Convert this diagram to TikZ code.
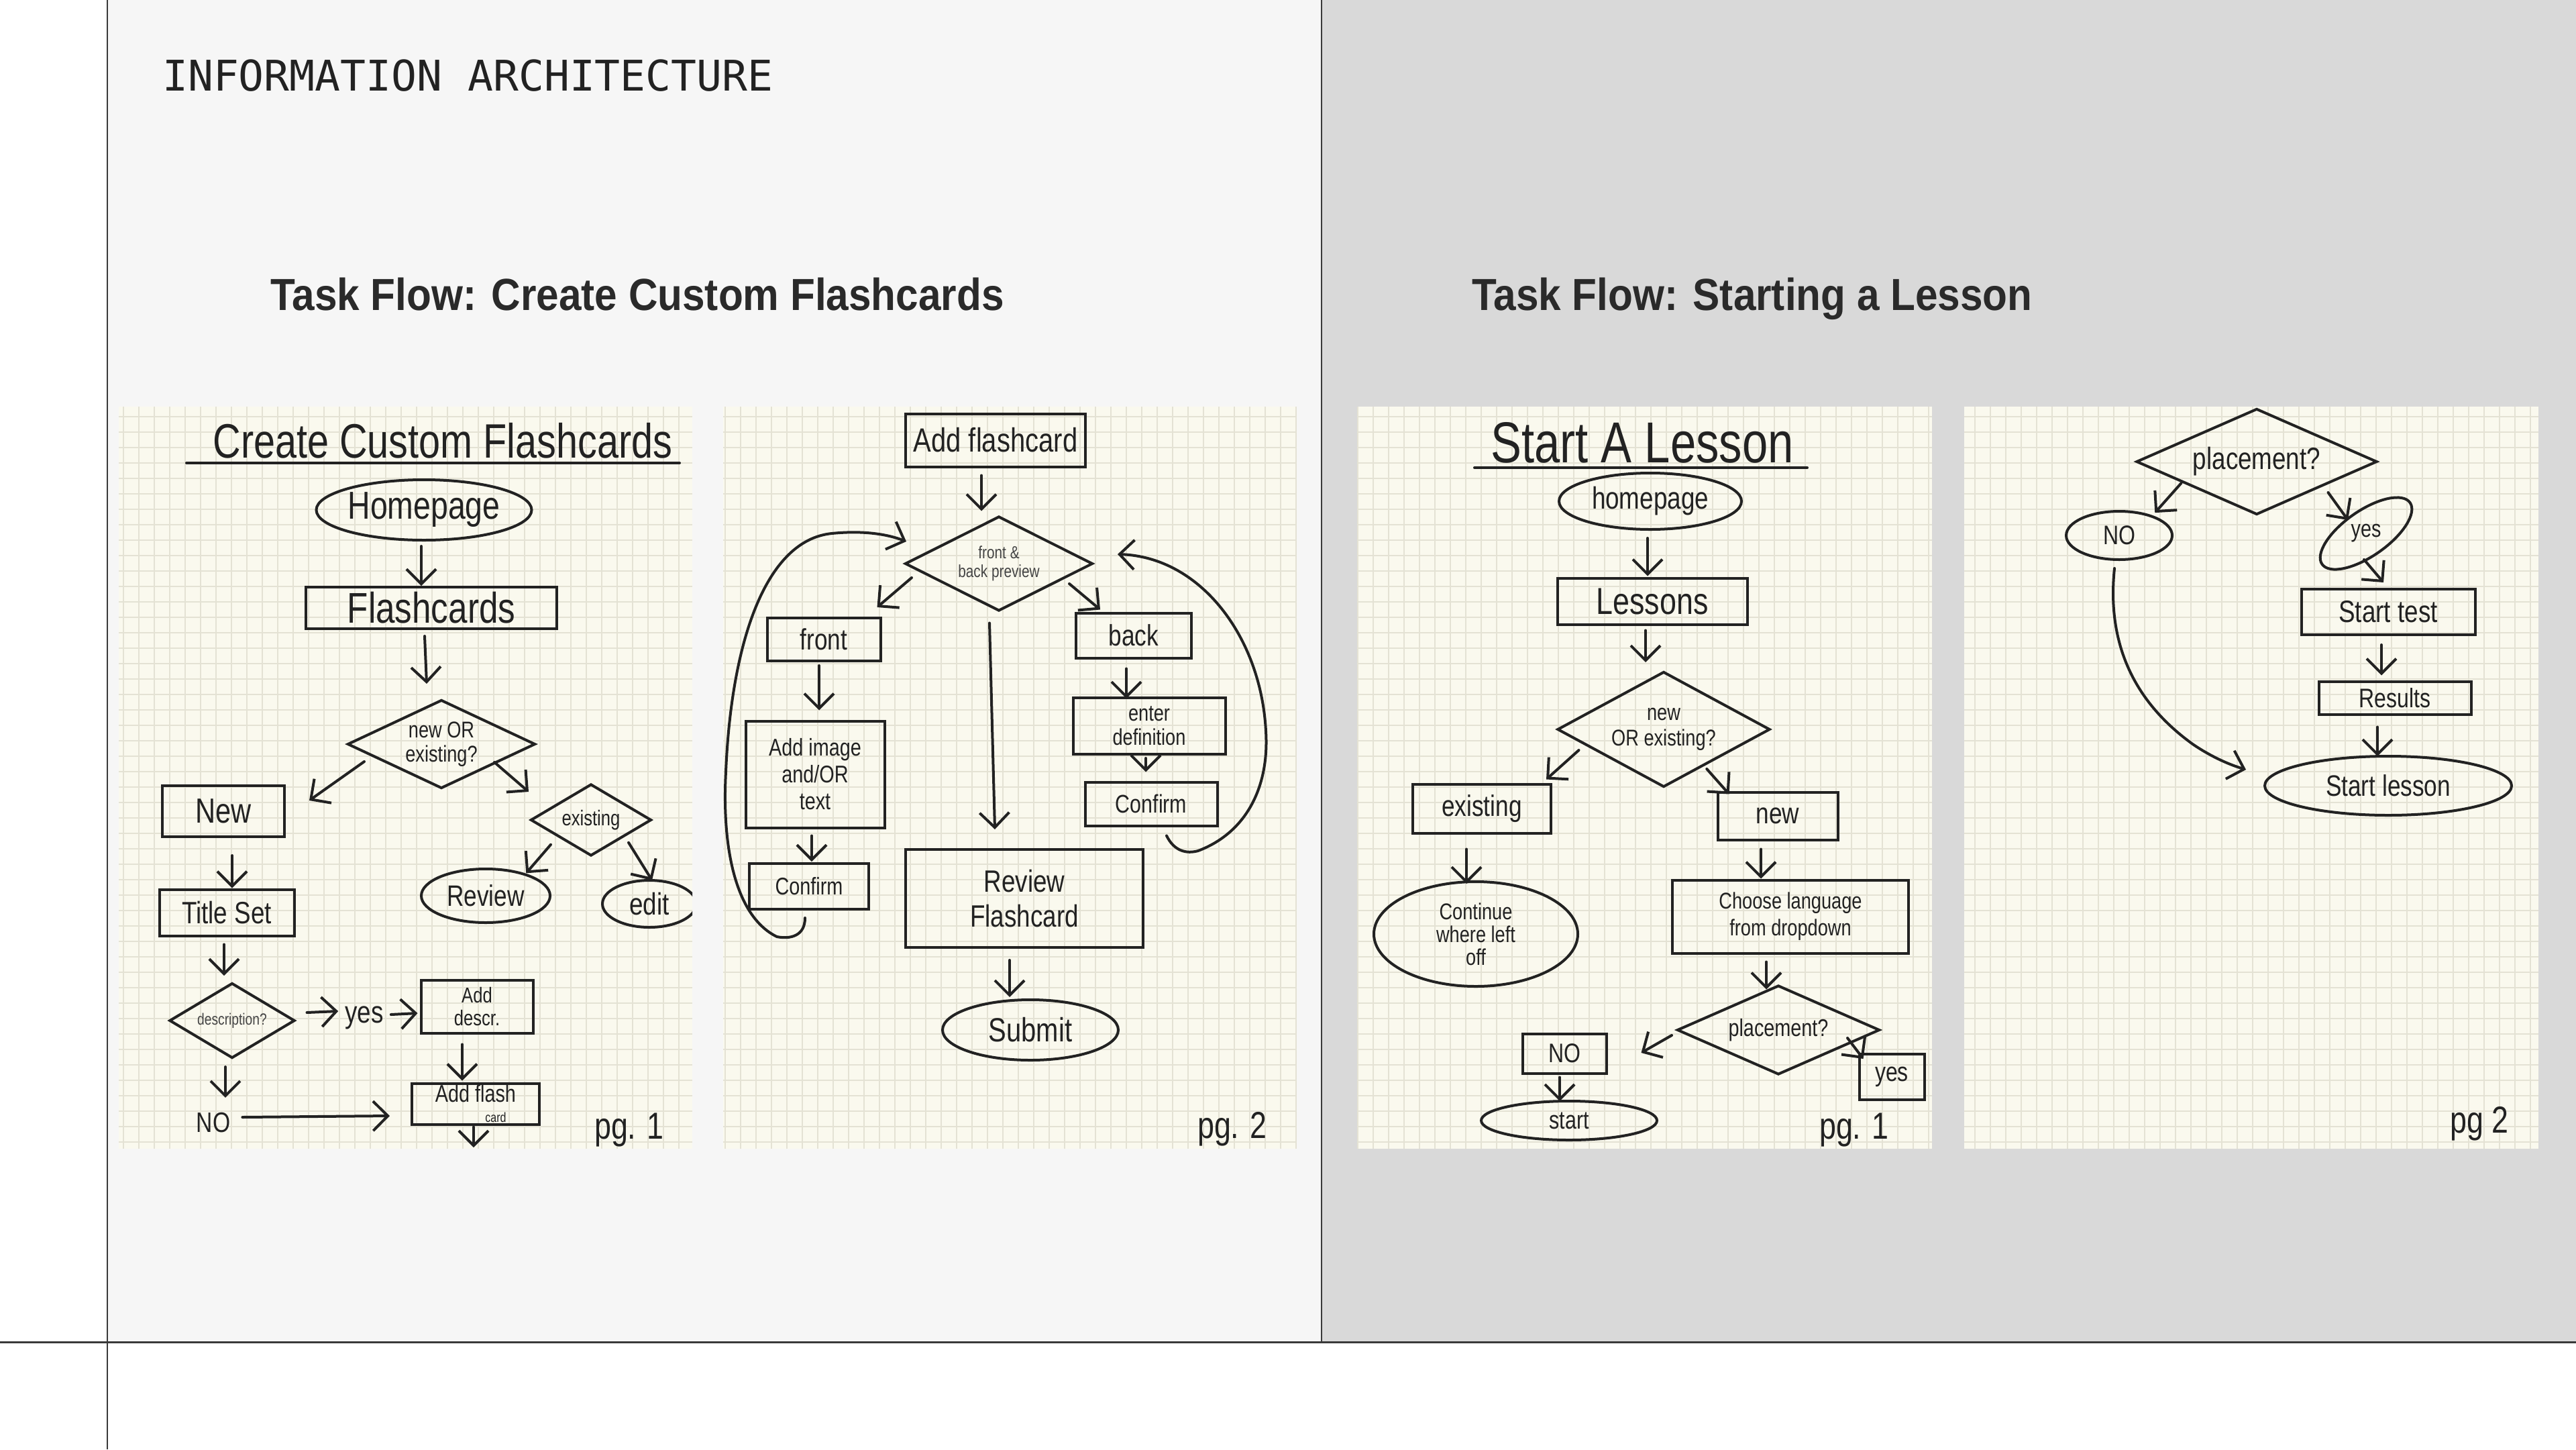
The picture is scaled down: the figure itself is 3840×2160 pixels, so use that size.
\documentclass[tikz,border=0pt]{standalone}
\usepackage{fontspec}
\usetikzlibrary{shapes.geometric,arrows.meta,calc}
\newfontfamily\monof{DejaVu Sans Mono}
\newfontfamily\titlef[FakeStretch=0.9]{Liberation Sans}
\newfontfamily\hand[FakeStretch=0.8]{Liberation Sans}
\newcommand\fsz[2]{\fontsize{#1}{#2}\selectfont}
\definecolor{ink}{HTML}{222222}
\definecolor{paper}{HTML}{FAF9EE}
\definecolor{gridc}{HTML}{E4E2D4}
\definecolor{lbg}{HTML}{F6F6F6}
\definecolor{rbg}{HTML}{D9D9D9}
\definecolor{rulec}{HTML}{3A3A3A}
\definecolor{titlec}{HTML}{2A2A2A}
\definecolor{faint}{HTML}{444444}
\tikzset{
 hbox/.style={draw=ink, line width=4pt, rectangle, inner sep=0pt, text=ink, font=\hand, align=center},
 hell/.style={draw=ink, line width=4pt, ellipse, inner sep=0pt, text=ink, font=\hand, align=center},
 hdia/.style={draw=ink, line width=4pt, diamond, inner sep=0pt, text=ink, font=\hand, align=center},
 htxt/.style={inner sep=0pt, text=ink, font=\hand, align=center},
 harrow/.style={draw=ink, line width=4pt, line cap=round, line join=round, -{Straight Barb[length=22pt,width=44pt]}},
 hline/.style={draw=ink, line width=4pt, line cap=round},
 gridline/.style={draw=gridc, line width=1.2pt},
 sheet/.style={fill=paper},
}
\begin{document}
\begin{tikzpicture}[x=1pt,y=-1pt]
\useasboundingbox (0,0) rectangle (3840,2160);
\fill[white] (0,0) rectangle (3840,2160);
\fill[lbg] (160,0) rectangle (1970,2000);
\fill[rbg] (1970,0) rectangle (3840,2000);
\draw[rulec, line width=2.5pt] (160,0) -- (160,2160);
\draw[rulec, line width=2pt] (1970,0) -- (1970,2000);
\draw[rulec, line width=3pt] (0,2000) -- (3840,2000);

% headers
\node[anchor=base west, inner sep=0pt, text=ink, font=\monof\fsz{63}{66}] (ia) at (242,135) {INFORMATION ARCHITECTURE};
\node[anchor=base west, inner sep=0pt, text=titlec, font=\titlef\bfseries\fsz{67}{70}] (tf1) at (403,462) {Task Flow: Create Custom Flashcards};
\node[anchor=base west, inner sep=0pt, text=titlec, font=\titlef\bfseries\fsz{67}{70}] (tf2) at (2194,462) {Task Flow: Starting a Lesson};

% sheets
\fill[sheet] (177,606) rectangle (1032,1712);
\fill[sheet] (1078,606) rectangle (1933,1712);
\fill[sheet] (2024,606) rectangle (2880,1712);
\fill[sheet] (2928,606) rectangle (3784,1712);
\draw[gridline, step=23pt] (177,1712) grid (1032,606);
\draw[gridline, step=23pt] (1078,1712) grid (1933,606);
\draw[gridline, step=23pt] (2024,1712) grid (2880,606);
\draw[gridline, step=23pt] (2928,1712) grid (3784,606);

% ---------------- sheet 1 ----------------
\begin{scope}
\clip (177,606) rectangle (1032,1712);
\node[htxt, anchor=base, font=\hand\fsz{72}{76}] (ct1) at (660,682) {Create Custom Flashcards};
\draw[hline] (278,690) -- (1013,690);
\node[hell, minimum width=314pt, minimum height=90pt, font=\hand\fsz{58}{62}] (home1) at (632,760) {Homepage};
\node[hbox, minimum width=374pt, minimum height=62pt, font=\hand\fsz{64}{68}] (flash1) at (643,906) {Flashcards};
\node[hdia, aspect=2.1, minimum width=280pt, minimum height=132pt, font=\hand\fsz{34}{36}] (dia1) at (658,1109) {new OR\\existing?};
\node[hbox, minimum width=182pt, minimum height=76pt, font=\hand\fsz{52}{56}] (new1) at (333,1209) {New};
\node[hdia, aspect=1.7, minimum width=180pt, minimum height=107pt, font=\hand\fsz{32}{34}] (exdia1) at (881,1222) {existing};
\node[hbox, minimum width=201pt, minimum height=69pt, font=\hand\fsz{46}{50}] (tset) at (338,1360) {Title Set};
\node[hell, minimum width=192pt, minimum height=80pt, font=\hand\fsz{44}{48}] (review1) at (724,1335) {Review};
\node[hell, minimum width=140pt, minimum height=70pt, font=\hand\fsz{46}{50}] (edit1) at (968,1347) {edit};
\node[hdia, aspect=1.67, minimum width=187pt, minimum height=112pt, draw=ink, text=faint, font=\hand\fsz{24}{26}] (desc) at (346,1521) {description?};
\node[htxt, font=\hand\fsz{46}{50}] (yes1) at (543,1517) {yes};
\node[hbox, minimum width=167pt, minimum height=79pt, font=\hand\fsz{32}{34}] (adddescr) at (711,1500) {Add\\descr.};
\node[hbox, minimum width=190pt, minimum height=61pt, font=\hand\fsz{36}{30}] (addflash) at (709,1645) {Add flash\\\hspace*{60pt}{\fsz{20}{20}card}};
\node[htxt, font=\hand\fsz{42}{46}] (no1) at (318,1673) {NO};
\node[htxt, font=\hand\fsz{56}{60}] (pg1) at (938,1684) {pg. 1};
\coordinate (bot1) at (706,1710);

\draw[harrow] ($(home1.south)+(-4,7)$) -- ($(flash1.north)+(-15,0)$);
\draw[harrow] ($(flash1.south)+(-10,9)$) -- ($(dia1.north)+(-22,-22)$);
\draw[harrow] ($(dia1.west)+(27,26)$) -- ($(new1.north east)+(35,24)$);
\draw[harrow] ($(dia1.east)+(-63,27)$) -- ($(exdia1.west)+(-1,-42)$);
\draw[harrow] ($(new1.south)+(13,26)$) -- ($(tset.north)+(8,0)$);
\draw[harrow] ($(exdia1.south west)+(-14,9)$) -- ($(review1.north east)+(-9,-4)$);
\draw[harrow] ($(exdia1.south east)+(10,6)$) -- ($(edit1.north)+(4,2)$);
\draw[harrow] ($(tset.south)+(-4,11)$) -- ($(desc.north)+(-12,-9)$);
\draw[harrow] ($(desc.east)+(16,-12)$) -- ($(yes1.west)+(-10,-10)$);
\draw[harrow] ($(yes1.east)+(11,-5)$) -- ($(adddescr.west)+(-3,10)$);
\draw[harrow] ($(adddescr.south)+(-22,15)$) -- ($(addflash.north)+(-20,-2)$);
\draw[harrow] ($(addflash.south)+(-3,2)$) -- (bot1);
\draw[harrow] ($(desc.south)+(-10,11)$) -- ($(no1.north)+(18,-22)$);
\draw[harrow] ($(no1.east)+(18,-8)$) -- ($(addflash.west)+(-31,18)$);
\end{scope}

% ---------------- sheet 2 ----------------
\node[hbox, minimum width=268pt, minimum height=79pt, font=\hand\fsz{50}{54}] (addfc) at (1484,656) {Add flashcard};
\node[hdia, aspect=2.0, minimum width=280pt, minimum height=141pt, text=faint, font=\hand\fsz{26}{28}] (fbp) at (1489,840) {front \&\\back preview};
\node[hbox, minimum width=169pt, minimum height=64pt, font=\hand\fsz{44}{48}] (front) at (1228,953) {front};
\node[hbox, minimum width=172pt, minimum height=67pt, font=\hand\fsz{44}{48}] (back) at (1690,947) {back};
\node[hbox, minimum width=207pt, minimum height=159pt, font=\hand\fsz{36}{40}] (addimg) at (1215,1154) {Add image\\and/OR\\text};
\node[hbox, minimum width=227pt, minimum height=84pt, font=\hand\fsz{34}{36}] (enterdef) at (1713,1082) {enter\\definition};
\node[hbox, minimum width=197pt, minimum height=65pt, font=\hand\fsz{38}{40}] (conf2r) at (1716,1198) {Confirm};
\node[hbox, minimum width=178pt, minimum height=68pt, font=\hand\fsz{36}{40}] (conf2l) at (1206,1321) {Confirm};
\node[hbox, minimum width=354pt, minimum height=146pt, font=\hand\fsz{46}{52}] (review2) at (1527,1339) {Review\\Flashcard};
\node[hell, minimum width=262pt, minimum height=90pt, font=\hand\fsz{50}{54}] (submit) at (1536,1535) {Submit};
\node[htxt, font=\hand\fsz{56}{60}] (pg2) at (1837,1683) {pg. 2};

\draw[harrow] ($(addfc.south)+(-21,11)$) -- ($(fbp.north)+(-26,-6)$);
\draw[harrow] ($(fbp.west)+(12,21)$) -- ($(front.north east)+(-7,-14)$);
\draw[harrow] ($(fbp.east)+(-37,30)$) -- ($(back.north west)+(38,-3)$);
\draw[harrow] ($(fbp.south)+(-14,16)$) -- ($(review2.north)+(-44,-28)$);
\draw[harrow] ($(front.south)+(-7,5)$) -- ($(addimg.north)+(6,-14)$);
\draw[harrow] ($(back.south)+(-11,14)$) -- ($(enterdef.north)+(-34,3)$);
\draw[harrow] ($(enterdef.south)+(-5,4)$) -- ($(conf2r.north)+(-8,-13)$);
\draw[harrow] ($(addimg.south)+(-5,10)$) -- ($(conf2l.north)+(4,-1)$);
\draw[harrow] ($(review2.south)+(-22,17)$) -- ($(submit.north)+(-31,-2)$);
\draw[harrow] ($(conf2l.south)+(-6,11)$) .. controls (1200,1395) and (1178,1400) .. (1158,1396)
  .. controls (1095,1365) and (1076,1260) .. (1082,1150)
  .. controls (1090,960) and (1140,805) .. (1240,795)
  .. controls (1290,790) and (1325,797) .. ($(fbp.west)+(4,-33)$);
\draw[harrow] ($(conf2r.south)+(23,13)$) .. controls (1750,1268) and (1768,1273) .. (1786,1268)
  .. controls (1860,1240) and (1892,1170) .. (1887,1090)
  .. controls (1880,950) and (1790,830) .. ($(fbp.east)+(35,-14)$);

% ---------------- sheet 3 ----------------
\node[htxt, anchor=base, font=\hand\fsz{86}{90}] (ct3) at (2448,689) {Start A Lesson};
\draw[hline] (2198,697) -- (2694,697);
\node[hell, minimum width=272pt, minimum height=84pt, font=\hand\fsz{46}{50}] (home3) at (2460,747) {homepage};
\node[hbox, minimum width=283pt, minimum height=69pt, font=\hand\fsz{56}{60}] (lessons) at (2463,896) {Lessons};
\node[hdia, aspect=1.84, minimum width=317pt, minimum height=172pt, font=\hand\fsz{34}{38}] (dia3) at (2480,1087) {new\\OR existing?};
\node[hbox, minimum width=206pt, minimum height=73pt, font=\hand\fsz{44}{48}] (exist3) at (2209,1205) {existing};
\node[hbox, minimum width=179pt, minimum height=71pt, font=\hand\fsz{44}{48}] (new3) at (2650,1216) {new};
\node[hell, minimum width=304pt, minimum height=156pt, font=\hand\fsz{34}{34}] (cont) at (2200,1392) {Continue\\where left\\off};
\node[hbox, minimum width=352pt, minimum height=109pt, font=\hand\fsz{34}{40}] (choose) at (2669,1366) {Choose language\\from dropdown};
\node[hdia, aspect=2.27, minimum width=302pt, minimum height=133pt, font=\hand\fsz{36}{40}] (plc3) at (2651,1535) {placement?};
\node[hbox, minimum width=125pt, minimum height=59pt, font=\hand\fsz{40}{44}] (no3) at (2332,1570) {NO};
\node[hell, minimum width=262pt, minimum height=58pt, font=\hand\fsz{38}{40}] (start3) at (2339,1670) {start};
\node[hbox, minimum width=97pt, minimum height=68pt, font=\hand\fsz{40}{44}] (yes3) at (2820,1605) {yes};
\node[htxt, font=\hand\fsz{56}{60}] (pg3) at (2764,1684) {pg. 1};

\draw[harrow] ($(home3.south)+(-4,11)$) -- ($(lessons.north)+(-7,-1)$);
\draw[harrow] ($(lessons.south)+(-10,7)$) -- ($(dia3.north)+(-27,-12)$);
\draw[harrow] ($(dia3.west)+(34,31)$) -- ($(exist3.north east)+(-9,-5)$);
\draw[harrow] ($(dia3.south east)+(-16,15)$) -- ($(new3.north west)+(19,5)$);
\draw[harrow] ($(exist3.south)+(-23,22)$) -- ($(cont.north)+(-14,5)$);
\draw[harrow] ($(new3.south)+(-25,12)$) -- ($(choose.north)+(-44,0)$);
\draw[harrow] ($(choose.south)+(-36,11)$) -- ($(plc3.north)+(-18,8)$);
\draw[harrow] ($(plc3.west)+(-6,8)$) -- ($(no3.east)+(50,-1)$);
\draw[harrow] ($(no3.south)+(-7,4)$) -- ($(start3.north)+(-14,2)$);
\draw[harrow] ($(plc3.east)+(-50,12)$) -- ($(yes3.north west)+(8,9)$);

% ---------------- sheet 4 ----------------
\node[hdia, aspect=2.27, minimum width=359pt, minimum height=158pt, font=\hand\fsz{46}{50}] (plc4) at (3364,688) {placement?};
\node[hell, minimum width=158pt, minimum height=72pt, font=\hand\fsz{40}{44}] (no4) at (3159,798) {NO};
\node[hell, rotate=35, minimum width=160pt, minimum height=66pt, font=\hand\fsz{36}{40}] (yes4) at (3527,795) {\rotatebox{-35}{yes}};
\node[hbox, minimum width=259pt, minimum height=68pt, font=\hand\fsz{46}{50}] (starttest) at (3560,912) {Start test};
\node[hbox, minimum width=227pt, minimum height=49pt, font=\hand\fsz{40}{44}] (results) at (3570,1040) {Results};
\node[hell, minimum width=368pt, minimum height=88pt, font=\hand\fsz{44}{48}] (startles) at (3560,1171) {Start lesson};
\node[htxt, font=\hand\fsz{56}{60}] (pg4) at (3696,1675) {pg 2};

\draw[harrow] ($(plc4.west)+(69,32)$) -- ($(no4.north east)+(-4,-7)$);
\draw[harrow] ($(plc4.east)+(-75,46)$) -- ($(yes4.center)+(-27,-20)$);
\draw[harrow] ($(yes4.center)+(-3,39)$) -- ($(starttest.north)+(-7,-8)$);
\draw[harrow] ($(starttest.south)+(-10,13)$) -- ($(results.north)+(-20,-7)$);
\draw[harrow] ($(results.south)+(-26,17)$) -- ($(startles.north)+(-16,2)$);
\draw[harrow] ($(no4.south)+(-7,11)$) .. controls (3138,980) and (3200,1060) .. (3270,1110)
  .. controls (3300,1130) and (3325,1140) .. ($(startles.west)+(-26,-24)$);
\end{tikzpicture}
\end{document}
